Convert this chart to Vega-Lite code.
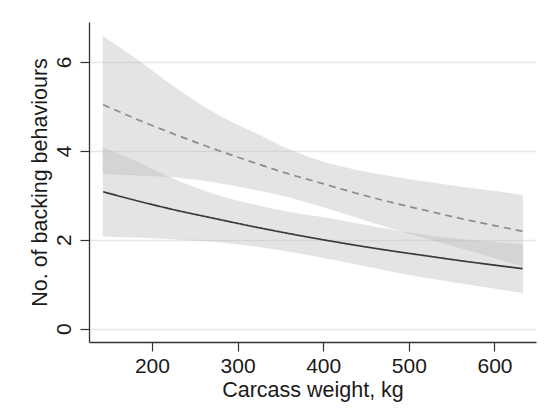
{
  "$schema": "https://vega.github.io/schema/vega-lite/v6.json",
  "width": 447,
  "height": 320,
  "autosize": "none",
  "padding": {"left": 89, "top": 22, "right": 12, "bottom": 73},
  "background": "white",
  "config": {
    "view": {"stroke": null},
    "font": "Liberation Sans",
    "axis": {
      "labelFont": "Liberation Sans",
      "titleFont": "Liberation Sans",
      "labelFontSize": 21,
      "titleFontSize": 21.5,
      "labelColor": "#1a1a1a",
      "titleColor": "#1a1a1a",
      "titleFontWeight": "normal",
      "domainColor": "#333333",
      "domainWidth": 1.3,
      "tickColor": "#333333",
      "tickWidth": 1.2,
      "tickSize": 9,
      "gridColor": "#e6e6e6",
      "gridWidth": 1.4
    }
  },
  "data": {
    "values": [
      {"weight": 143, "group": "g1", "fit": 3.08, "lower": 2.08, "upper": 4.07},
      {"weight": 180, "group": "g1", "fit": 2.89, "lower": 2.06, "upper": 3.77},
      {"weight": 227, "group": "g1", "fit": 2.67, "lower": 2.02, "upper": 3.35},
      {"weight": 273, "group": "g1", "fit": 2.48, "lower": 1.96, "upper": 3.02},
      {"weight": 320, "group": "g1", "fit": 2.29, "lower": 1.86, "upper": 2.78},
      {"weight": 360, "group": "g1", "fit": 2.14, "lower": 1.74, "upper": 2.62},
      {"weight": 400, "group": "g1", "fit": 2.00, "lower": 1.60, "upper": 2.50},
      {"weight": 440, "group": "g1", "fit": 1.87, "lower": 1.45, "upper": 2.36},
      {"weight": 480, "group": "g1", "fit": 1.75, "lower": 1.29, "upper": 2.22},
      {"weight": 520, "group": "g1", "fit": 1.64, "lower": 1.15, "upper": 2.10},
      {"weight": 560, "group": "g1", "fit": 1.53, "lower": 1.03, "upper": 2.01},
      {"weight": 600, "group": "g1", "fit": 1.43, "lower": 0.91, "upper": 1.94},
      {"weight": 633, "group": "g1", "fit": 1.35, "lower": 0.81, "upper": 1.89},
      {"weight": 143, "group": "g2", "fit": 5.04, "lower": 3.49, "upper": 6.57},
      {"weight": 180, "group": "g2", "fit": 4.73, "lower": 3.46, "upper": 6.09},
      {"weight": 227, "group": "g2", "fit": 4.37, "lower": 3.41, "upper": 5.42},
      {"weight": 273, "group": "g2", "fit": 4.04, "lower": 3.30, "upper": 4.85},
      {"weight": 320, "group": "g2", "fit": 3.73, "lower": 3.13, "upper": 4.40},
      {"weight": 360, "group": "g2", "fit": 3.48, "lower": 2.96, "upper": 4.03},
      {"weight": 400, "group": "g2", "fit": 3.26, "lower": 2.74, "upper": 3.75},
      {"weight": 440, "group": "g2", "fit": 3.04, "lower": 2.50, "upper": 3.56},
      {"weight": 480, "group": "g2", "fit": 2.84, "lower": 2.26, "upper": 3.42},
      {"weight": 520, "group": "g2", "fit": 2.66, "lower": 2.04, "upper": 3.30},
      {"weight": 560, "group": "g2", "fit": 2.48, "lower": 1.82, "upper": 3.19},
      {"weight": 600, "group": "g2", "fit": 2.32, "lower": 1.60, "upper": 3.09},
      {"weight": 633, "group": "g2", "fit": 2.19, "lower": 1.41, "upper": 3.00}
    ]
  },
  "encoding": {
    "x": {
      "field": "weight",
      "type": "quantitative",
      "scale": {"domain": [126.5, 648.5], "nice": false, "zero": false},
      "axis": {
        "title": "Carcass weight, kg",
        "values": [200, 300, 400, 500, 600],
        "grid": false,
        "labelPadding": 4,
        "titlePadding": 3
      }
    }
  },
  "layer": [
    {
      "mark": {
        "type": "area",
        "interpolate": "monotone",
        "color": "#bdbdbd",
        "opacity": 0.4,
        "stroke": "#a8a8a8",
        "strokeWidth": 0.8,
        "strokeOpacity": 0.6
      },
      "encoding": {
        "y": {
          "field": "lower",
          "type": "quantitative",
          "scale": {"domain": [-0.3, 6.9], "nice": false, "zero": false},
          "axis": {
            "title": "No. of backing behaviours",
            "values": [0, 2, 4, 6],
            "labelAngle": -90,
            "labelAlign": "center",
            "labelBaseline": "bottom",
            "labelPadding": 6,
            "titlePadding": 2
          }
        },
        "y2": {"field": "upper"},
        "detail": {"field": "group"}
      }
    },
    {
      "mark": {"type": "line", "interpolate": "monotone", "strokeWidth": 1.7},
      "encoding": {
        "y": {"field": "fit", "type": "quantitative"},
        "color": {
          "field": "group",
          "type": "nominal",
          "scale": {"domain": ["g1", "g2"], "range": ["#3a3a3a", "#8c8c8c"]},
          "legend": null
        },
        "strokeDash": {
          "field": "group",
          "type": "nominal",
          "scale": {"domain": ["g1", "g2"], "range": [[1, 0], [7, 5]]},
          "legend": null
        }
      }
    }
  ]
}
